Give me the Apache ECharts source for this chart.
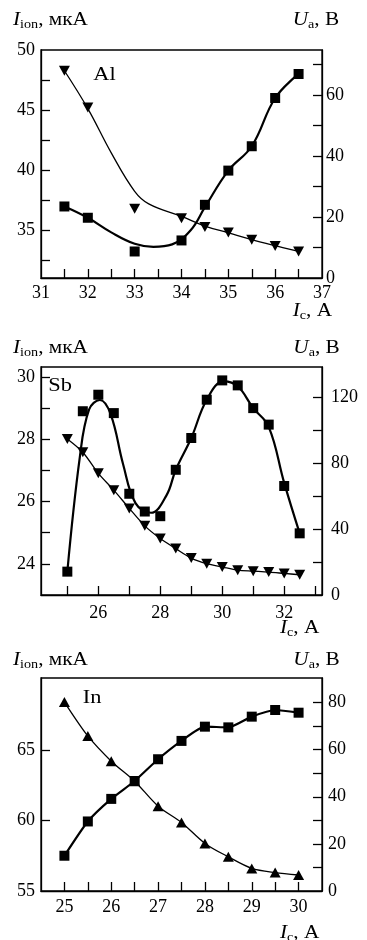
<!DOCTYPE html>
<html>
<head>
<meta charset="utf-8">
<script src="https://cdn.jsdelivr.net/npm/echarts@6/dist/echarts.min.js"></script>
<style>
html, body { margin: 0; padding: 0; background: #fff; }
#chart { width: 367px; height: 940px; }
</style>
</head>
<body>
<div id="chart"></div>
<script>
// ---- Al ----
const alCurrent = [31.5, 32, 33, 34, 34.5, 35, 35.5, 36, 36.5];
const alIon = [36.96, 36.02, 33.21, 34.13, 37.1, 39.95, 41.98, 46.0, 48.0];
const alUa = [67.9, 55.9, 22.7, 19.6, 16.7, 14.9, 12.5, 10.5, 8.7];
const alIonFitX = [31.5, 32, 32.5, 33, 33.4, 33.8, 34.2, 34.5, 35, 35.5, 36, 36.5];
const alIonFitY = [36.96, 36.02, 34.8, 33.85, 33.6, 33.8, 35.0, 36.9, 39.95, 41.98, 46.0, 48.0];
const alUaFitX = [31.5, 32, 32.5, 33, 33.3, 34, 34.5, 35, 35.5, 36, 36.5];
const alUaFitY = [67.9, 55.5, 41.0, 28.4, 24.3, 20.2, 17.0, 14.8, 12.6, 10.6, 8.7];
const alXTicks = [31.5, 32, 32.5, 33, 33.5, 34, 34.5, 35, 35.5, 36, 36.5];
const alXLabels = [31, 32, 33, 34, 35, 36, 37];
const alLeftTicks = [32.5, 35, 37.5, 40, 42.5, 45, 47.5];
const alLeftLabels = [35, 40, 45, 50];
const alRightTicks = [10, 20, 30, 40, 50, 60, 70];
const alRightLabels = [0, 20, 40, 60];

// ---- Sb ----
const sbCurrent = [25, 25.5, 26, 26.5, 27, 27.5, 28, 28.5, 29, 29.5, 30, 30.5, 31, 31.5, 32, 32.5];
const sbIon = [23.75, 28.9, 29.43, 28.84, 26.25, 25.68, 25.53, 27.02, 28.04, 29.27, 29.89, 29.73, 29.0, 28.47, 26.5, 24.98];
const sbUa = [94.8, 86.7, 73.9, 63.7, 52.6, 42.0, 34.3, 28.2, 22.4, 19.0, 17.0, 15.1, 14.5, 13.9, 13.1, 12.3];
const sbIonFitX = [25, 25.4, 25.7, 26.05, 26.4, 26.8, 27.2, 27.7, 28.2, 28.5, 29, 29.5, 30.05, 30.5, 31, 31.5, 32, 32.5];
const sbIonFitY = [23.75, 27.4, 28.95, 29.26, 28.8, 27.2, 25.95, 25.64, 26.2, 27.02, 28.04, 29.27, 29.86, 29.7, 29.0, 28.4, 26.6, 24.98];
const sbXTicks = [25, 26, 27, 28, 29, 30, 31, 32, 33];
const sbXLabels = [26, 28, 30, 32];
const sbLeftTicks = [24, 25, 26, 27, 28, 29, 30];
const sbLeftLabels = [24, 26, 28, 30];
const sbRightTicks = [20, 40, 60, 80, 100, 120];
const sbRightLabels = [0, 40, 80, 120];

// ---- In ----
const inCurrent = [25, 25.5, 26, 26.5, 27, 27.5, 28, 28.5, 29, 29.5, 30];
const inIon = [57.5, 59.93, 61.53, 62.8, 64.34, 65.64, 66.65, 66.6, 67.36, 67.83, 67.64];
const inUa = [80.2, 65.8, 55.1, 46.6, 36.0, 29.1, 20.2, 14.5, 9.6, 7.8, 6.8];
const inXTicks = [25, 25.5, 26, 26.5, 27, 27.5, 28, 28.5, 29, 29.5, 30];
const inXLabels = [25, 26, 27, 28, 29, 30];
const inLeftTicks = [60, 65];
const inLeftLabels = [55, 60, 65];
const inRightTicks = [10, 20, 30, 40, 50, 60, 70, 80];
const inRightLabels = [0, 20, 40, 60, 80];

const FONT = 'Liberation Serif';
const INK = '#000';

function pairs(xs, ys) { return xs.map((x, i) => [x, ys[i]]); }

function grid(top, height) {
  return { left: 41, top: top, width: 281, height: height, show: true,
           borderColor: INK, borderWidth: 1.3, backgroundColor: 'transparent' };
}

function axis(gridIndex, min, max, ticks, labels, margin, position) {
  const a = {
    type: 'value', gridIndex: gridIndex, min: min, max: max,
    axisLine: { show: true, onZero: false, lineStyle: { color: INK, width: 1.3 } },
    axisTick: { show: true, inside: true, length: 9, customValues: ticks,
                lineStyle: { color: INK, width: 1.3 } },
    axisLabel: { customValues: labels, margin: margin, color: INK,
                 fontFamily: FONT, fontSize: 18 },
    splitLine: { show: false }
  };
  if (position) a.position = position;
  return a;
}

function curve(xi, yi, data, width, smooth) {
  return { type: 'line', xAxisIndex: xi, yAxisIndex: yi, data: data, smooth: smooth,
           showSymbol: false, symbol: 'none', silent: true, z: 2,
           lineStyle: { color: INK, width: width, opacity: 1 } };
}

function markers(xi, yi, data, symbol, size, rotate) {
  return { type: 'scatter', xAxisIndex: xi, yAxisIndex: yi, data: data, symbol: symbol,
           symbolSize: size, symbolRotate: rotate || 0, silent: true, z: 3,
           itemStyle: { color: INK, opacity: 1 } };
}

function axisTitle(x, y, main, sub, rest) {
  return {
    type: 'text', x: x, y: y, scaleX: 1.18, silent: true,
    style: {
      x: 0, y: 0, verticalAlign: 'top', fill: INK,
      text: '{m|' + main + '}{s|' + sub + '}{n|' + rest + '}',
      rich: {
        m: { fontFamily: FONT, fontStyle: 'italic', fontSize: 18, lineHeight: 20, fill: INK },
        s: { fontFamily: FONT, fontSize: 12, lineHeight: 8, verticalAlign: 'bottom', fill: INK },
        n: { fontFamily: FONT, fontSize: 18, lineHeight: 20, fill: INK }
      }
    }
  };
}

function element(x, y, name) {
  return { type: 'text', x: x, y: y, scaleX: 1.18, silent: true,
           style: { x: 0, y: 0, text: name, fill: INK, fontFamily: FONT, fontSize: 19,
                    verticalAlign: 'middle' } };
}

const SQUARE = 10;
const TRIANGLE = [11, 10];

const option = {
  animation: false,
  backgroundColor: '#fff',
  grid: [grid(50, 228), grid(367, 228), grid(678, 213)],
  xAxis: [
    axis(0, 31, 37, alXTicks, alXLabels, 6),
    axis(1, 24.15, 33.22, sbXTicks, sbXLabels, 9),
    axis(2, 24.5, 30.5, inXTicks, inXLabels, 7)
  ],
  yAxis: [
    axis(0, 31, 50, alLeftTicks, alLeftLabels, 6, 'left'),
    axis(0, 0, 74.7, alRightTicks, alRightLabels, 4, 'right'),
    axis(1, 23, 30.32, sbLeftTicks, sbLeftLabels, 6, 'left'),
    axis(1, 0, 138.5, sbRightTicks, sbRightLabels, 9, 'right'),
    axis(2, 55, 70.1, inLeftTicks, inLeftLabels, 6, 'left'),
    axis(2, 0, 90.4, inRightTicks, inRightLabels, 6, 'right')
  ],
  series: [
    curve(0, 0, pairs(alIonFitX, alIonFitY), 2.2, 0.4),
    curve(0, 1, pairs(alUaFitX, alUaFitY), 1.3, 0.4),
    markers(0, 0, pairs(alCurrent, alIon), 'rect', SQUARE),
    markers(0, 1, pairs(alCurrent, alUa), 'triangle', TRIANGLE, 180),

    curve(1, 2, pairs(sbIonFitX, sbIonFitY), 2.2, 0.4),
    curve(1, 3, pairs(sbCurrent, sbUa), 1.3, 0.3),
    markers(1, 2, pairs(sbCurrent, sbIon), 'rect', SQUARE),
    markers(1, 3, pairs(sbCurrent, sbUa), 'triangle', TRIANGLE, 180),

    curve(2, 4, pairs(inCurrent, inIon), 2.2, 0.2),
    curve(2, 5, pairs(inCurrent, inUa), 1.3, 0.3),
    markers(2, 4, pairs(inCurrent, inIon), 'rect', SQUARE),
    markers(2, 5, pairs(inCurrent, inUa), 'triangle', TRIANGLE)
  ],
  graphic: [
    axisTitle(13, 10.4, 'I', 'ion', ', мкА'),
    axisTitle(292.7, 10.4, 'U', 'a', ', В'),
    axisTitle(292.7, 301.7, 'I', 'c', ', A'),
    element(93.3, 75, 'Al'),

    axisTitle(13, 338.7, 'I', 'ion', ', мкА'),
    axisTitle(293.3, 338.7, 'U', 'a', ', В'),
    axisTitle(280, 618.4, 'I', 'c', ', A'),
    element(48.3, 386, 'Sb'),

    axisTitle(13, 650.4, 'I', 'ion', ', мкА'),
    axisTitle(293.3, 650.4, 'U', 'a', ', В'),
    axisTitle(280, 923.4, 'I', 'c', ', A'),
    element(82.7, 698, 'In')
  ]
};

const chart = echarts.init(document.getElementById('chart'), null, { renderer: 'canvas' });
chart.setOption(option);
</script>
</body>
</html>
